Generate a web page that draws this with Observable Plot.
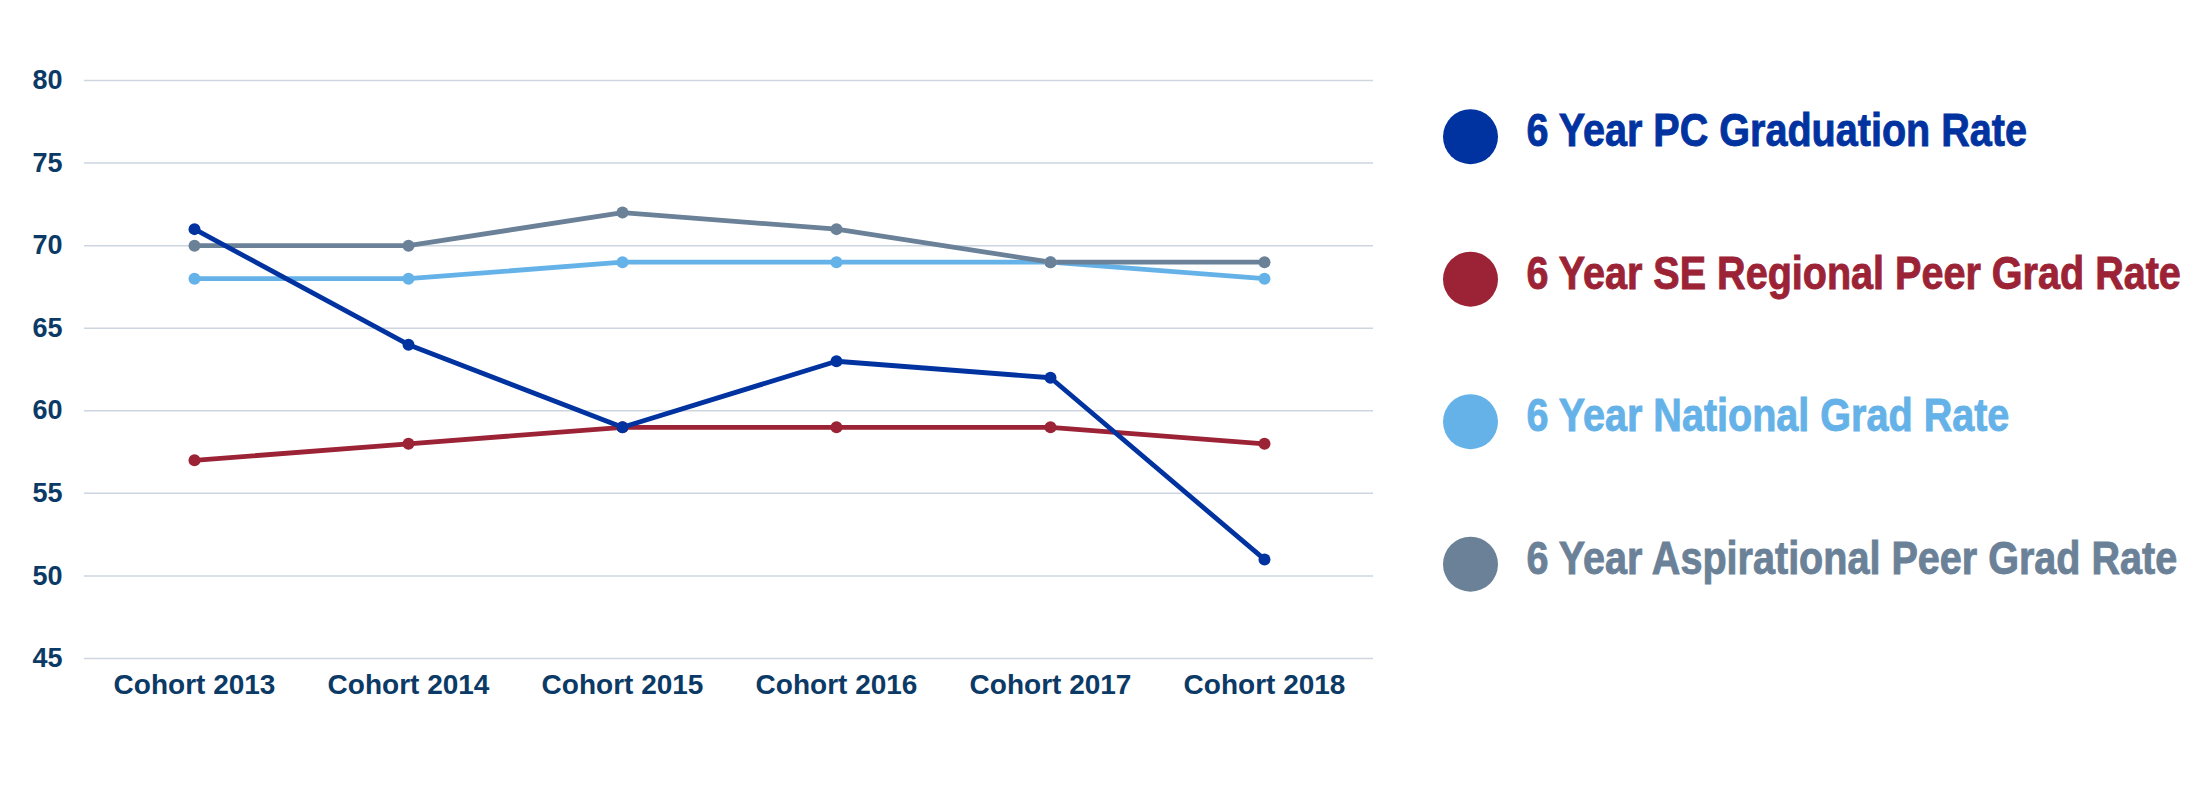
<!DOCTYPE html>
<html>
<head>
<meta charset="utf-8">
<script src="https://cdn.jsdelivr.net/npm/d3@7"></script>
<script src="https://cdn.jsdelivr.net/npm/@observablehq/plot@0.6"></script>
<style>
  html, body { margin: 0; padding: 0; background: #fff; }
  #wrap { position: relative; width: 2200px; height: 800px; }
  #chart { position: absolute; left: 0; top: 0; }
  #legend { position: absolute; left: 1380px; top: 0; }
  #chart svg text { font-weight: bold; }
</style>
</head>
<body>
<div id="wrap">
  <div id="chart"></div>
  <div id="legend"></div>
</div>
<script>
const cohorts = ["Cohort 2013", "Cohort 2014", "Cohort 2015", "Cohort 2016", "Cohort 2017", "Cohort 2018"];
const seriesNames = [
  "6 Year PC Graduation Rate",
  "6 Year SE Regional Peer Grad Rate",
  "6 Year National Grad Rate",
  "6 Year Aspirational Peer Grad Rate"
];
const seriesColors = ["#0033a0", "#9b2335", "#65b2e8", "#6a8198"];
const pcRate = [71, 64, 59, 63, 62, 51];
const seRegionalRate = [57, 58, 59, 59, 59, 58];
const nationalRate = [68, 68, 69, 69, 69, 68];
const aspirationalRate = [70, 70, 72, 71, 69, 69];
const yTicks = [45, 50, 55, 60, 65, 70, 75, 80];

const valuesBySeries = {
  [seriesNames[0]]: pcRate,
  [seriesNames[1]]: seRegionalRate,
  [seriesNames[2]]: nationalRate,
  [seriesNames[3]]: aspirationalRate
};
// draw order: PC last so it sits on top
const drawOrder = [seriesNames[1], seriesNames[2], seriesNames[3], seriesNames[0]];
const data = drawOrder.flatMap(s => cohorts.map((c, i) => ({series: s, cohort: c, value: valuesBySeries[s][i]})));

const axisColor = "#0c3a66";
const chart = Plot.plot({
  width: 1380,
  height: 800,
  marginLeft: 84,
  marginRight: 7,
  marginTop: 80,
  marginBottom: 142,
  style: {fontFamily: "'Liberation Sans', Arial, sans-serif", color: axisColor, background: "white", overflow: "visible"},
  x: {type: "point", domain: cohorts, padding: 0.5, label: null},
  y: {domain: [45, 80], label: null},
  color: {domain: seriesNames, range: seriesColors},
  marks: [
    Plot.gridY(yTicks, {stroke: "#cdd6e0", strokeOpacity: 1, strokeWidth: 1.5}),
    Plot.axisY(yTicks, {tickSize: 0, tickPadding: 22, fontSize: 27, label: null, fill: axisColor}),
    Plot.axisX({tickSize: 0, tickPadding: 16, fontSize: 28, label: null, fill: axisColor}),
    Plot.line(data, {x: "cohort", y: "value", z: "series", stroke: "series", strokeWidth: 4.8}),
    Plot.dot(data, {x: "cohort", y: "value", fill: "series", r: 6})
  ]
});
document.getElementById("chart").appendChild(chart);

// legend
const lg = d3.select("#legend").append("svg").attr("width", 820).attr("height", 800);
const row = lg.selectAll("g").data(seriesNames).join("g")
  .attr("transform", (d, i) => `translate(0, ${136.7 + i * 142.5})`);
row.append("circle").attr("cx", 90.5).attr("cy", 0).attr("r", 27.5)
  .attr("fill", (d, i) => seriesColors[i]);
row.append("text")
  .attr("transform", "translate(146.5, 9.5) scale(0.86, 1)")
  .attr("font-family", "'Liberation Sans', Arial, sans-serif")
  .attr("font-weight", "bold")
  .attr("font-size", 46)
  .attr("fill", (d, i) => seriesColors[i])
  .attr("stroke", (d, i) => seriesColors[i])
  .attr("stroke-width", 0.9)
  .text(d => d);
</script>
</body>
</html>
